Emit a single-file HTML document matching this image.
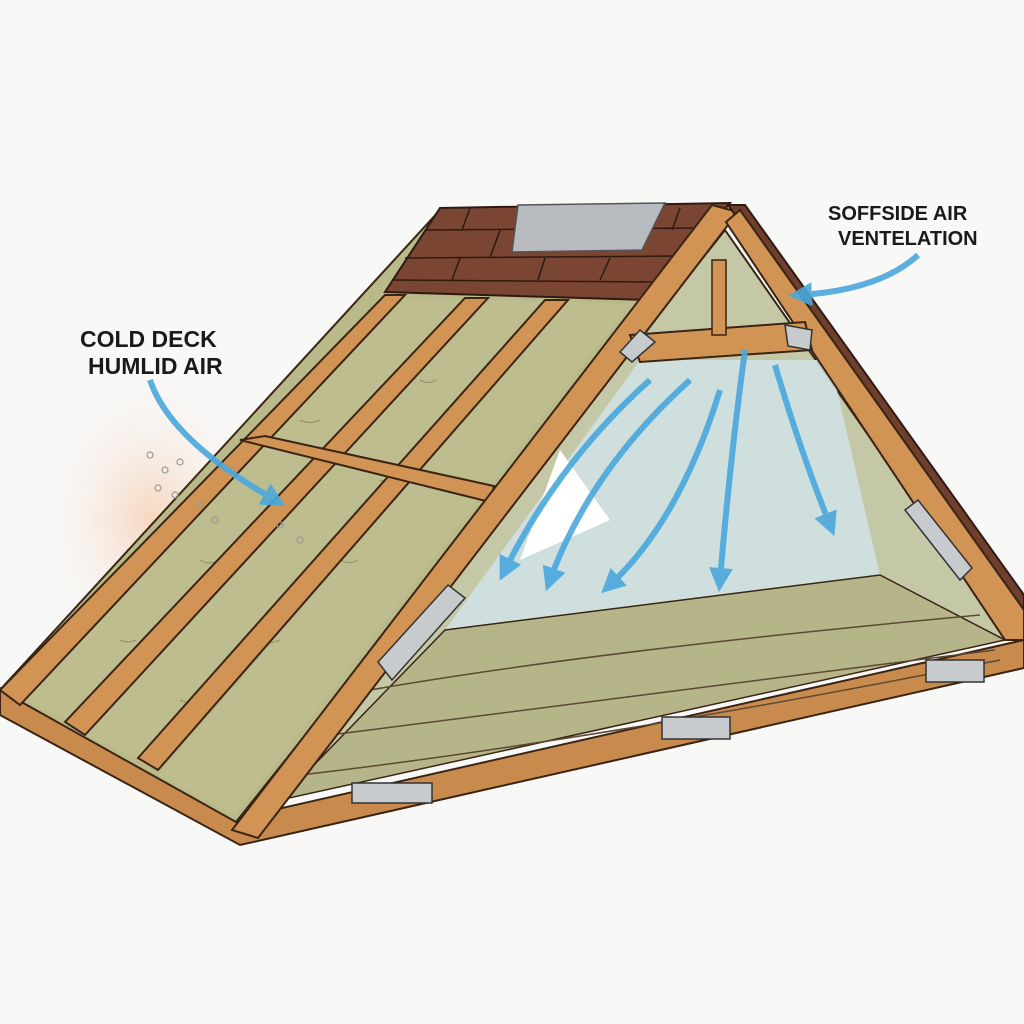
<!DOCTYPE html>
<html><head><style>
html,body{margin:0;padding:0;background:#f8f8f7;}
svg{display:block}
text{font-family:"Liberation Sans",sans-serif;font-weight:bold;fill:#1a1a1a}
</style></head><body>
<svg width="1024" height="1024" viewBox="0 0 1024 1024">
<defs>
<radialGradient id="glow" cx="0.5" cy="0.5" r="0.5"><stop offset="0" stop-color="#f6c9a8" stop-opacity="0.7"/><stop offset="1" stop-color="#f8f8f7" stop-opacity="0"/></radialGradient>
<marker id="ah" viewBox="0 0 10 10" refX="5" refY="5" markerWidth="4" markerHeight="4" orient="auto"><path d="M0,0 L10,5 L0,10 z" fill="#4aa8dd"/></marker>
</defs>
<rect width="1024" height="1024" fill="#f8f8f7"/>
<ellipse cx="150" cy="520" rx="120" ry="160" fill="url(#glow)"/>
<!-- bottom board -->
<polygon points="0,688 238,818 1024,640 1024,668 240,845 0,715" fill="#c98a4e" stroke="#3a2414" stroke-width="2"/>
<!-- left slope -->
<polygon points="440,210 728,205 236,822 0,690" fill="#b9b98a" stroke="#3a2414" stroke-width="2"/>
<!-- insulation panels tint -->
<g fill="#bdbd90">
<polygon points="405,298 468,300 80,728 20,698"/>
<polygon points="487,300 548,302 152,765 85,735"/>
<polygon points="567,302 630,304 236,815 158,775"/>
</g>
<g stroke="#6b6a4a" stroke-width="1" fill="none" opacity="0.6">
<path d="M300,420 q10,5 20,0 M200,560 q10,6 18,0 M120,640 q8,4 16,0 M380,480 q10,5 20,0 M260,640 q10,5 20,0 M420,380 q8,5 16,0 M340,560 q10,5 18,0 M180,700 q10,5 18,0"/>
</g>
<!-- left slope rafters -->
<g stroke="#3a2414" stroke-width="2" fill="#d19455">
<polygon points="385,295 405,295 20,705 0,690"/>
<polygon points="465,298 488,298 85,735 65,722"/>
<polygon points="545,300 568,300 158,770 138,758"/>
<polygon points="240,440 265,436 494,486 490,502"/>
</g>
<!-- shingles -->
<polygon points="440,208 730,203 650,300 385,292" fill="#7a4532" stroke="#2e1a12" stroke-width="2"/>
<g stroke="#2e1a12" stroke-width="1.5" fill="none">
<line x1="425" y1="230" x2="700" y2="228"/><line x1="405" y1="258" x2="680" y2="256"/><line x1="392" y1="280" x2="660" y2="282"/>
<line x1="470" y1="208" x2="462" y2="230"/><line x1="500" y1="230" x2="490" y2="258"/><line x1="460" y1="258" x2="452" y2="280"/><line x1="545" y1="258" x2="538" y2="280"/><line x1="610" y1="258" x2="600" y2="280"/><line x1="680" y1="208" x2="672" y2="230"/>
</g>
<polygon points="518,205 665,203 642,250 512,252" fill="#b8bcc0" stroke="#555" stroke-width="1.5"/>
<!-- gable interior -->
<polygon points="725,230 272,800 1010,638" fill="#c5c8a6" stroke="#3a2414" stroke-width="2"/>
<polygon points="640,360 830,360 880,575 445,630" fill="#cfe1e3" opacity="0.9"/>
<polygon points="560,450 610,520 520,560" fill="#ffffff"/>
<polygon points="445,630 880,575 1005,640 280,800" fill="#b6b489" stroke="#3a2414" stroke-width="1.5"/>
<g stroke="#5a4a30" stroke-width="1.5" fill="none">
<path d="M370,690 Q600,650 980,615"/><path d="M330,735 Q600,700 995,650"/><path d="M300,775 Q600,740 1000,660"/>
</g>
<!-- front rafter -->
<polygon points="712,205 738,212 258,838 232,830" fill="#d19455" stroke="#3a2414" stroke-width="2"/>
<!-- right rafter and shingle edge -->
<polygon points="728,205 745,205 1024,595 1024,620" fill="#6e3f2c" stroke="#2e1a12" stroke-width="2"/>
<polygon points="726,222 740,210 1024,610 1024,640 1005,640" fill="#d19455" stroke="#3a2414" stroke-width="2"/>
<!-- collar tie -->
<polygon points="630,335 805,322 812,350 640,362" fill="#d19455" stroke="#3a2414" stroke-width="2"/>
<rect x="712" y="260" width="14" height="75" fill="#d19455" stroke="#3a2414" stroke-width="1.5"/>
<!-- brackets -->
<g fill="#c8cbce" stroke="#333" stroke-width="1.5">
<polygon points="620,352 640,330 655,342 632,362"/>
<polygon points="785,325 812,330 810,350 788,346"/>
<polygon points="378,662 448,585 465,598 392,680"/>
<polygon points="905,510 918,500 972,568 960,580"/>
<rect x="352" y="783" width="80" height="20"/>
<rect x="662" y="717" width="68" height="22"/>
<rect x="926" y="660" width="58" height="22"/>
</g>
<!-- blue arrows -->
<g stroke="#4aa8dd" stroke-width="6" fill="none" marker-end="url(#ah)" opacity="0.9">
<path d="M150,380 Q170,440 275,500"/>
<path d="M918,255 Q880,290 800,295"/>
<path d="M650,380 Q560,460 505,570"/>
<path d="M690,380 Q590,470 550,580"/>
<path d="M720,390 Q680,520 610,585"/>
<path d="M745,350 Q730,460 720,580"/>
<path d="M775,365 Q800,450 830,525"/>
</g>
<g fill="none" stroke="#999" stroke-width="1.2">
<circle cx="150" cy="455" r="3"/><circle cx="165" cy="470" r="3"/><circle cx="158" cy="488" r="3"/><circle cx="180" cy="462" r="3"/><circle cx="175" cy="495" r="3"/><circle cx="200" cy="505" r="3"/><circle cx="215" cy="520" r="3"/><circle cx="280" cy="525" r="3"/><circle cx="300" cy="540" r="3"/>
</g>
<text x="80" y="347" font-size="23">COLD DECK</text>
<text x="88" y="374" font-size="23">HUMLID AIR</text>
<text x="828" y="220" font-size="20">SOFFSIDE AIR</text>
<text x="838" y="245" font-size="20">VENTELATION</text>
</svg>
</body></html>
